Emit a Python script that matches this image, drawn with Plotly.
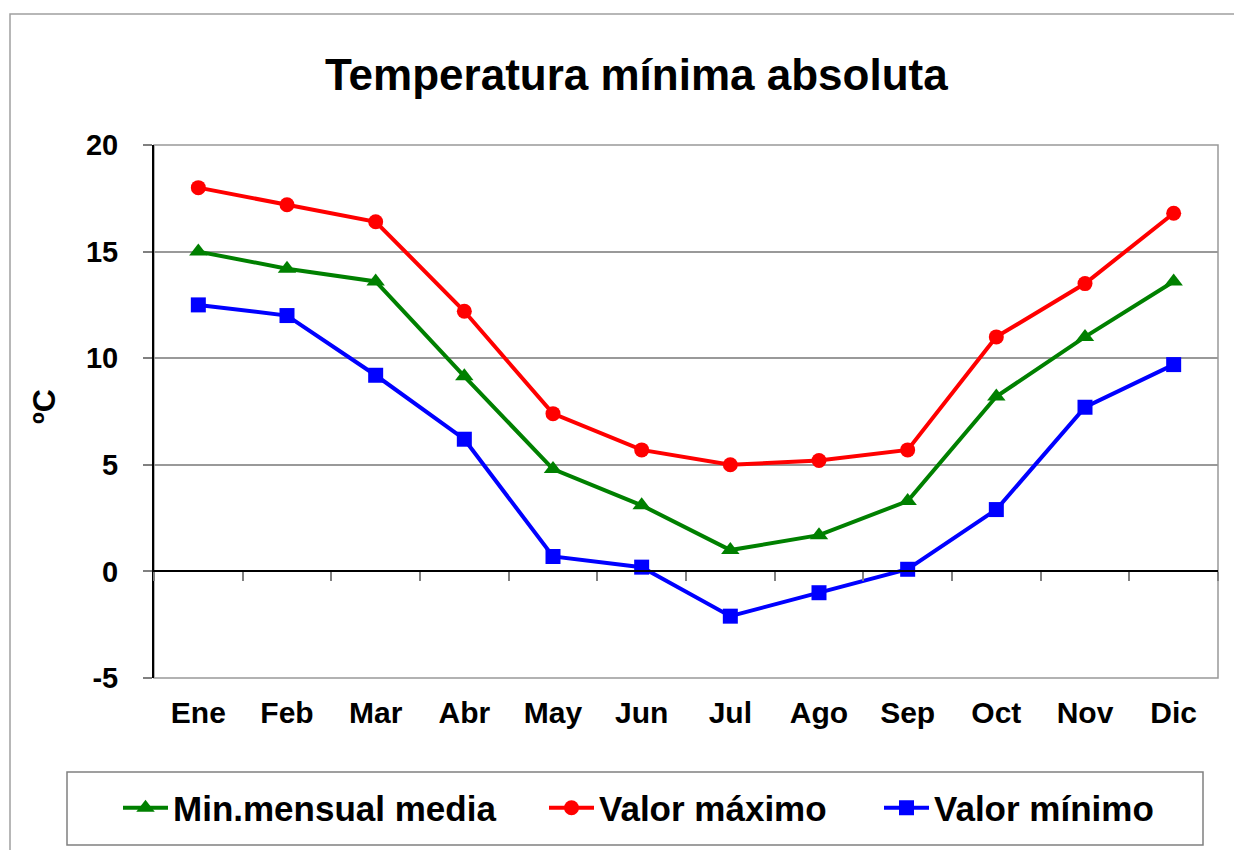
import plotly.graph_objects as go
import numpy as np

months = ["Ene", "Feb", "Mar", "Abr", "May", "Jun", "Jul", "Ago", "Sep", "Oct", "Nov", "Dic"]
min_mensual_media = [15.0, 14.2, 13.6, 9.15, 4.8, 3.1, 1.0, 1.7, 3.3, 8.2, 11.0, 13.6]
valor_maximo = [18.0, 17.2, 16.4, 12.2, 7.4, 5.7, 5.0, 5.2, 5.7, 11.0, 13.5, 16.8]
valor_minimo = [12.5, 12.0, 9.2, 6.2, 0.7, 0.2, -2.1, -1.0, 0.1, 2.9, 7.7, 9.7]
y_ticks = [-5, 0, 5, 10, 15, 20]
y_tick_labels = ["-5", "0", "5", "10", "15", "20"]

FONT = "Liberation Sans, Arial, Helvetica, sans-serif"
W, H = 1234, 850
L, R, T, B = 154, 1218, 145, 678  # plot area pixels
PW, PH = R - L, B - T

def px(x):
    return (x - L) / PW

def py(y):
    return (B - y) / PH

fig = go.Figure()

series = [
    ("Min.mensual media", min_mensual_media, "#008000", "triangle-up", 16, "legend"),
    ("Valor máximo", valor_maximo, "#FF0000", "circle", 15, "legend2"),
    ("Valor mínimo", valor_minimo, "#0000FF", "square", 15, "legend3"),
]
for name, vals, col, sym, size, leg in series:
    fig.add_trace(go.Scatter(
        x=months, y=vals, name=name, mode="lines+markers",
        line=dict(color=col, width=4),
        marker=dict(symbol=sym, size=size, color=col),
        legend=leg, cliponaxis=False,
    ))

# dummy trace to host the zero-crossing category axis (ticks between categories)
idx = np.arange(len(months))
fig.add_trace(go.Scatter(
    x=idx, y=valor_minimo, xaxis="x2", mode="markers",
    marker=dict(opacity=0), showlegend=False, hoverinfo="skip",
))

n = len(months)
boundaries = [i - 0.5 for i in range(n + 1)]
yr = [y_ticks[0], y_ticks[-1]]

fig.update_layout(
    width=W, height=H,
    margin=dict(l=L, r=W - R, t=T, b=H - B, pad=0),
    paper_bgcolor="white", plot_bgcolor="white",
    font=dict(family=FONT, color="black"),
    showlegend=True,
    xaxis=dict(
        type="category", categoryorder="array", categoryarray=months,
        range=[-0.5, n - 0.5], showgrid=False, zeroline=False, showline=False,
        ticks="", tickfont=dict(family=FONT, size=30, weight="bold", color="black"),
        ticklabelstandoff=14,
    ),
    xaxis2=dict(
        overlaying="x", anchor="free",
        position=(0 - yr[0]) / (yr[1] - yr[0]),
        range=[-0.5, n - 0.5], tickmode="array", tickvals=boundaries,
        showticklabels=False, ticks="outside", ticklen=9, tickwidth=1.5,
        tickcolor="#808080", showline=True, linecolor="black", linewidth=1.5,
        showgrid=False, zeroline=False,
    ),
    yaxis=dict(
        range=yr, tickmode="array", tickvals=y_ticks, ticktext=y_tick_labels,
        showgrid=True, gridcolor="#999999", gridwidth=1.5,
        zeroline=False, showline=True, linecolor="black", linewidth=2,
        ticks="outside", ticklen=9, tickwidth=1.5, tickcolor="#808080",
        tickfont=dict(family=FONT, size=29, weight="bold", color="black"),
        ticklabelstandoff=19,
    ),
    shapes=[
        # plot area frame
        dict(type="rect", xref="paper", yref="paper", x0=0, y0=0, x1=1, y1=1,
             line=dict(color="#999999", width=1.5), layer="below"),
        # outer chart border
        dict(type="rect", xref="paper", yref="paper", x0=px(10), y0=py(870), x1=px(1250), y1=py(14),
             line=dict(color="#A0A0A0", width=1.5), layer="below"),
        # legend box
        dict(type="rect", xref="paper", yref="paper", x0=px(67), y0=py(845), x1=px(1203), y1=py(772),
             line=dict(color="#808080", width=1.5), layer="below"),
    ],
    annotations=[
        dict(text="<b>Temperatura mínima absoluta</b>", x=px(636), y=py(74), xref="paper", yref="paper",
             xanchor="center", yanchor="middle", showarrow=False,
             font=dict(family=FONT, size=44, color="black")),
        dict(text="<b>ºC</b>", x=px(44), y=py(407), xref="paper", yref="paper",
             xanchor="center", yanchor="middle", showarrow=False, textangle=-90,
             font=dict(family=FONT, size=32, color="black")),
    ],
)

leg_common = dict(orientation="h", xanchor="left", yanchor="middle", xref="paper", yref="paper",
                  bgcolor="rgba(0,0,0,0)", borderwidth=0, itemwidth=45,
                  font=dict(family=FONT, size=35, weight="bold", color="black"))
fig.update_layout(
    legend=dict(x=px(118), y=py(808), **leg_common),
    legend2=dict(x=px(544), y=py(808), **leg_common),
    legend3=dict(x=px(879), y=py(808), **leg_common),
)

fig.write_html("out.html", config={"displayModeBar": False},
               post_script="document.body.style.margin='0';document.body.style.overflow='hidden';")
